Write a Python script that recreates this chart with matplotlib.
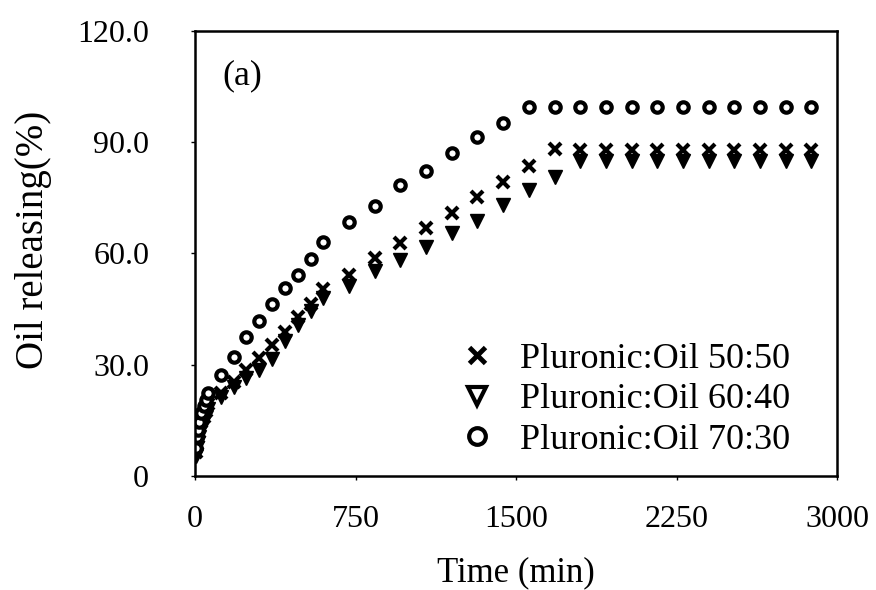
import matplotlib.pyplot as plt
from matplotlib.lines import Line2D

plt.rcParams['font.family'] = ['Liberation Serif', 'DejaVu Serif']

# time points (min)
time = [5, 10, 15, 20, 30, 40, 50,
        60, 120, 180, 240, 300, 360, 420, 480, 540, 600,
        720, 840, 960, 1080, 1200, 1320, 1440, 1560, 1680,
        1800, 1920, 2040, 2160, 2280, 2400, 2520, 2640, 2760, 2880]

# oil releasing (%)
oil_50_50 = [6.5, 8.5, 10.5, 12.0, 14.5, 16.0, 17.5,
             19.5, 22.5, 25.4, 28.6, 31.7, 35.3, 38.9, 42.9, 46.3, 50.4,
             54.2, 58.8, 62.9, 66.8, 71.0, 75.2, 79.3, 83.6, 88.1,
             88.0, 88.0, 88.0, 88.0, 88.0, 88.0, 88.0, 88.0, 88.0, 88.0]
oil_60_40 = [5.5, 7.5, 9.0, 10.5, 12.5, 14.5, 16.0,
             18.0, 21.4, 24.0, 26.3, 28.5, 31.5, 36.5, 40.7, 44.5, 48.1,
             51.3, 55.3, 58.3, 61.8, 65.6, 68.8, 73.0, 77.1, 80.7,
             85.0, 85.0, 85.0, 85.0, 85.0, 85.0, 85.0, 85.0, 85.0, 85.0]
oil_70_30 = [7.5, 10.5, 12.5, 14.5, 17.0, 19.0, 20.5,
             22.5, 27.2, 32.2, 37.4, 41.8, 46.4, 50.6, 54.2, 58.4, 63.0,
             68.5, 72.9, 78.4, 82.3, 87.0, 91.3, 95.1, 99.4, 99.4,
             99.4, 99.4, 99.4, 99.4, 99.4, 99.4, 99.4, 99.4, 99.4, 99.4]

labels = ['Pluronic:Oil 50:50', 'Pluronic:Oil 60:40', 'Pluronic:Oil 70:30']

fig = plt.figure(figsize=(8.76, 5.90), dpi=100)
ax = fig.add_axes([0.2226, 0.1932, 0.7329, 0.7543])

ax.plot(time, oil_50_50, 'x', color='black', markersize=8, markeredgewidth=3)
ax.plot(time, oil_60_40, 'v', color='black', markersize=10)
ax.plot(time, oil_70_30, 'o', markerfacecolor='white', markeredgecolor='black',
        markersize=7.5, markeredgewidth=3)

ax.set_xlim(0, 3000)
ax.set_ylim(0, 120)
ax.set_xticks([0, 750, 1500, 2250, 3000])
ax.set_yticks([0, 30, 60, 90, 120])
ax.set_yticklabels(['0', '30.0', '60.0', '90.0', '120.0'])
ax.tick_params(axis='both', labelsize=23, direction='out', length=3, width=1)
ax.tick_params(axis='y', pad=30)
ax.tick_params(axis='x', pad=18)
for s in ax.spines.values():
    s.set_linewidth(1.8)

ax.set_xlabel('Time (min)', fontsize=25, labelpad=16)
ax.set_ylabel('Oil releasing(%)', fontsize=28, labelpad=18, y=0.53)
ax.text(0.042, 0.9, '(a)', transform=ax.transAxes, fontsize=26, va='center')

handles = [
    Line2D([], [], linestyle='none', marker='x', color='black', markersize=11, markeredgewidth=3.5),
    Line2D([], [], linestyle='none', marker='v', markerfacecolor='white', markeredgecolor='black',
           markersize=13, markeredgewidth=3),
    Line2D([], [], linestyle='none', marker='o', markerfacecolor='white', markeredgecolor='black',
           markersize=12, markeredgewidth=3),
]
ax.legend(handles, labels, loc='lower right', bbox_to_anchor=(0.978, -0.03), frameon=False,
          fontsize=26, handletextpad=0.7, labelspacing=0.2, handlelength=1.0)

fig.savefig('out.png', dpi=100)
